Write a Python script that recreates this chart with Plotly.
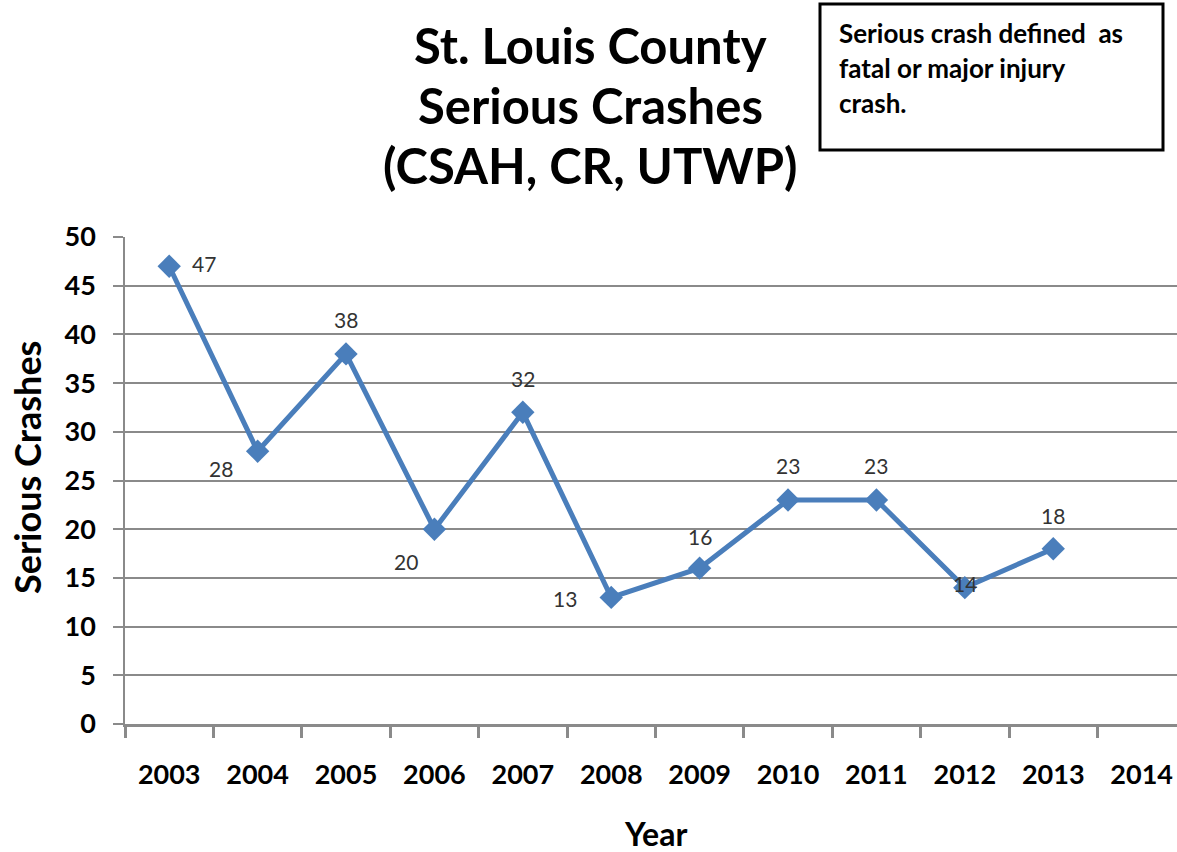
import plotly.graph_objects as go

years = ["2003", "2004", "2005", "2006", "2007", "2008", "2009", "2010", "2011", "2012", "2013", "2014"]
data_years = ["2003", "2004", "2005", "2006", "2007", "2008", "2009", "2010", "2011", "2012", "2013"]
crashes = [47, 28, 38, 20, 32, 13, 16, 23, 23, 14, 18]
y_ticks = [0, 5, 10, 15, 20, 25, 30, 35, 40, 45, 50]
title_lines = ["St. Louis County", "Serious Crashes", "(CSAH, CR, UTWP)"]
note_lines = ["Serious crash defined  as", "fatal or major injury", "crash."]

# label offsets (pixels) per point
label_shift = [(35, 3), (-37, -17), (0, 34), (-28, -32), (0, 34), (-46, -1), (0, 32), (0, 34), (0, 34), (0, 4), (0, 33)]

BLUE = "#4a7ebb"
GRID = "#8a8a8a"
FONT = "Lato, 'Open Sans', sans-serif"

# page geometry (plot area) used to convert page pixels to paper coords
PL, PR, PT, PB = 125, 1177, 237, 724
def px(x):
    return (x - PL) / (PR - PL)
def py(y):
    return (PB - y) / (PB - PT)

fig = go.Figure()
fig.add_trace(go.Scatter(
    x=data_years, y=crashes, mode="lines+markers",
    line=dict(color=BLUE, width=5),
    marker=dict(symbol="diamond", size=18, color=BLUE),
    showlegend=False, hoverinfo="x+y",
))

annotations = []
for i, (yv, (dx, dy)) in enumerate(zip(crashes, label_shift)):
    annotations.append(dict(x=i, y=yv, xref="x", yref="y", text=str(yv), showarrow=False,
                            xshift=dx, yshift=dy, font=dict(family=FONT, size=21, color="#333333")))

for line, yc in zip(title_lines, [45, 105, 165]):
    annotations.append(dict(x=px(590), y=py(yc), xref="paper", yref="paper", text="<b>" + line + "</b>",
                            showarrow=False, xanchor="center", yanchor="middle",
                            font=dict(family=FONT, size=49, color="black")))

for line, yc in zip(note_lines, [33, 68, 103]):
    annotations.append(dict(x=px(837), y=py(yc), xref="paper", yref="paper", text="<b>" + line + "</b>",
                            showarrow=False, xanchor="left", yanchor="middle",
                            font=dict(family=FONT, size=26, color="black")))

annotations.append(dict(x=px(27), y=py(468), xref="paper", yref="paper", text="<b>Serious Crashes</b>",
                        textangle=-90, showarrow=False, xanchor="center", yanchor="middle",
                        font=dict(family=FONT, size=36, color="black")))
annotations.append(dict(x=px(655), y=py(833), xref="paper", yref="paper", text="<b>Year</b>",
                        showarrow=False, xanchor="center", yanchor="middle",
                        font=dict(family=FONT, size=32, color="black")))

fig.update_layout(
    width=1177, height=852,
    margin=dict(l=PL, r=0, t=PT, b=852 - PB),
    paper_bgcolor="white", plot_bgcolor="white",
    font=dict(family=FONT, color="black"),
    xaxis=dict(type="category", categoryorder="array", categoryarray=years,
               range=[-0.5, 11.4], tickson="boundaries", ticks="outside", ticklen=11,
               tickwidth=3, tickcolor=GRID, showline=True, linecolor=GRID, linewidth=3,
               showgrid=False, ticklabelstandoff=25,
               tickfont=dict(family=FONT, size=27, color="black", weight="bold")),
    yaxis=dict(range=[0, 50], tickvals=y_ticks, ticks="outside", ticklen=10, tickwidth=2,
               tickcolor=GRID, showline=True, linecolor=GRID, linewidth=1.5,
               showgrid=True, gridcolor=GRID, gridwidth=1.5, zeroline=False,
               ticklabelstandoff=12,
               tickfont=dict(family=FONT, size=27, color="black", weight="bold")),
    annotations=annotations,
)

# note box
fig.add_shape(type="rect", xref="paper", yref="paper",
              x0=px(820), x1=px(1163), y0=py(150), y1=py(4),
              line=dict(color="black", width=3), fillcolor="white", layer="below")

fig.write_html("out.html", config={"displayModeBar": False},
               post_script="document.body.style.margin='0';document.body.style.overflow='hidden';")
